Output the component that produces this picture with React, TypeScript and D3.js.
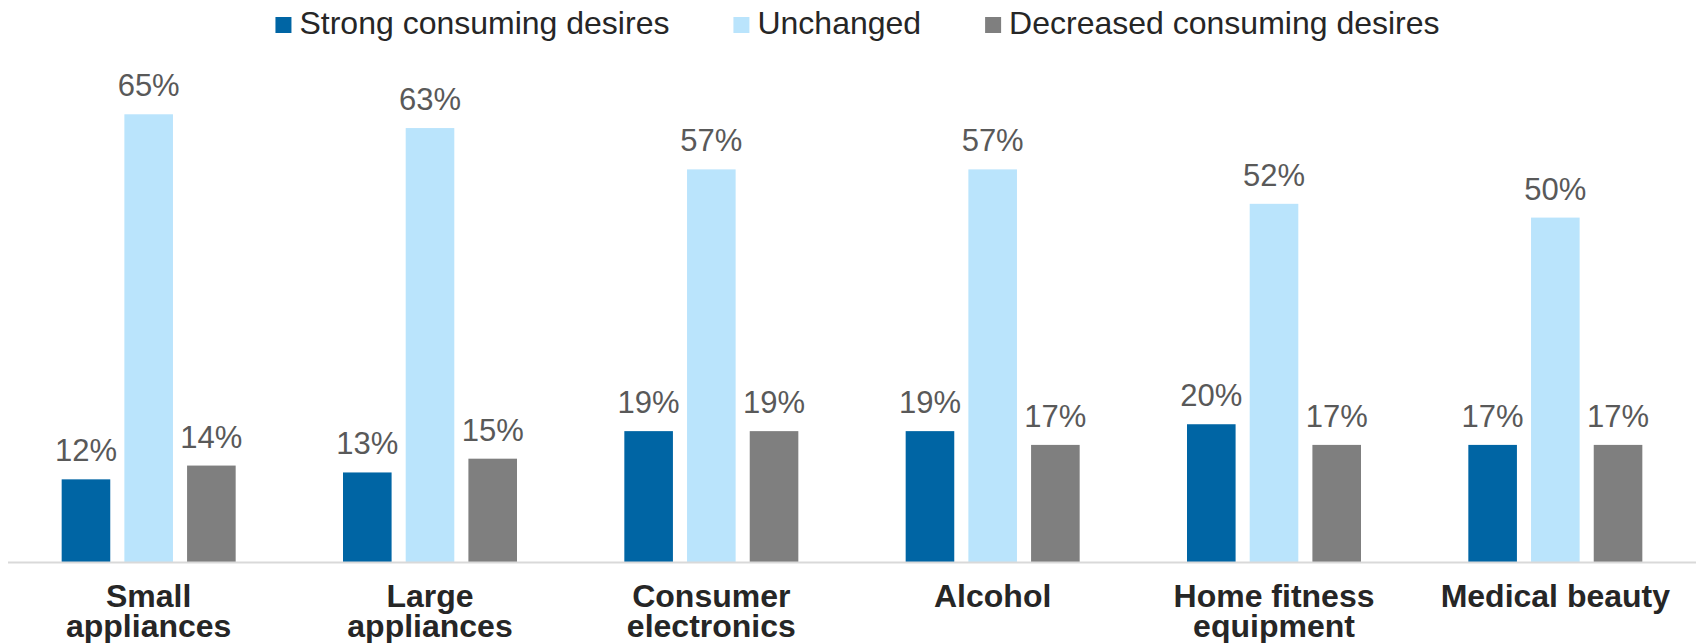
import React, { useEffect, useRef } from "react";
import * as d3 from "d3";

const categories = [
  "Small appliances",
  "Large appliances",
  "Consumer electronics",
  "Alcohol",
  "Home fitness equipment",
  "Medical beauty",
];
const categoryLines = [
  ["Small", "appliances"],
  ["Large", "appliances"],
  ["Consumer", "electronics"],
  ["Alcohol"],
  ["Home fitness", "equipment"],
  ["Medical beauty"],
];
const seriesNames = ["Strong consuming desires", "Unchanged", "Decreased consuming desires"];
const strong = [12, 13, 19, 19, 20, 17];
const unchanged = [65, 63, 57, 57, 52, 50];
const decreased = [14, 15, 19, 17, 17, 17];
const seriesColors = ["#0065A4", "#BAE4FC", "#7F7F7F"];

const W = 1696;
const H = 643;
const FONT = "'Liberation Sans', Arial, Helvetica, sans-serif";

export default function App() {
  const ref = useRef<SVGSVGElement>(null);

  useEffect(() => {
    const svg = d3.select(ref.current);
    svg.selectAll("*").remove();

    const series = [strong, unchanged, decreased];
    const baseY = 562;
    const x = d3.scaleBand<string>().domain(categories).range([8, W]).paddingInner(0).paddingOuter(0);
    const inner = d3
      .scaleBand<string>()
      .domain(seriesNames)
      .range([-87, 87])
      .paddingInner(0.225)
      .paddingOuter(0);
    const y = d3.scaleLinear().domain([0, 80]).range([baseY, baseY - 80 * 6.888]);

    const g = svg.append("g");

    categories.forEach((cat, ci) => {
      const cx = (x(cat) as number) + x.bandwidth() / 2;
      seriesNames.forEach((s, si) => {
        const v = series[si][ci];
        const bx = cx + (inner(s) as number);
        g.append("rect")
          .attr("x", bx)
          .attr("y", y(v))
          .attr("width", inner.bandwidth())
          .attr("height", baseY - y(v))
          .attr("fill", seriesColors[si]);
        g.append("text")
          .attr("x", bx + inner.bandwidth() / 2)
          .attr("y", y(v) - 18)
          .attr("text-anchor", "middle")
          .attr("font-family", FONT)
          .attr("font-size", 31)
          .attr("fill", "#595959")
          .text(`${v}%`);
      });
      const lines = categoryLines[ci];
      lines.forEach((ln, li) => {
        g.append("text")
          .attr("x", cx)
          .attr("y", 607 + li * 30)
          .attr("text-anchor", "middle")
          .attr("font-family", FONT)
          .attr("font-weight", "bold")
          .attr("font-size", 32)
          .attr("fill", "#262626")
          .text(ln);
      });
    });

    // axis baseline
    g.append("line")
      .attr("x1", 8)
      .attr("x2", W)
      .attr("y1", baseY + 0.5)
      .attr("y2", baseY + 0.5)
      .attr("stroke", "#D9D9D9")
      .attr("stroke-width", 2);

    // legend
    const lg = svg.append("g");
    const items = seriesNames.map((name, i) => {
      const it = lg.append("g");
      it.append("rect").attr("x", 0).attr("y", 17).attr("width", 16).attr("height", 16).attr("fill", seriesColors[i]);
      const t = it
        .append("text")
        .attr("x", 24)
        .attr("y", 34)
        .attr("font-family", FONT)
        .attr("font-size", 32)
        .attr("fill", "#262626")
        .text(name);
      const w = (t.node() as SVGTextElement).getComputedTextLength();
      return { it, w: 24 + w };
    });
    const gap = 64;
    const total = items.reduce((a, b) => a + b.w, 0) + gap * (items.length - 1);
    let cur = 857.5 - total / 2;
    items.forEach((o) => {
      o.it.attr("transform", `translate(${cur},0)`);
      cur += o.w + gap;
    });
  }, []);

  return (
    <svg
      ref={ref}
      width={W}
      height={H}
      style={{ position: "absolute", left: 0, top: 0, background: "#fff" }}
    />
  );
}
